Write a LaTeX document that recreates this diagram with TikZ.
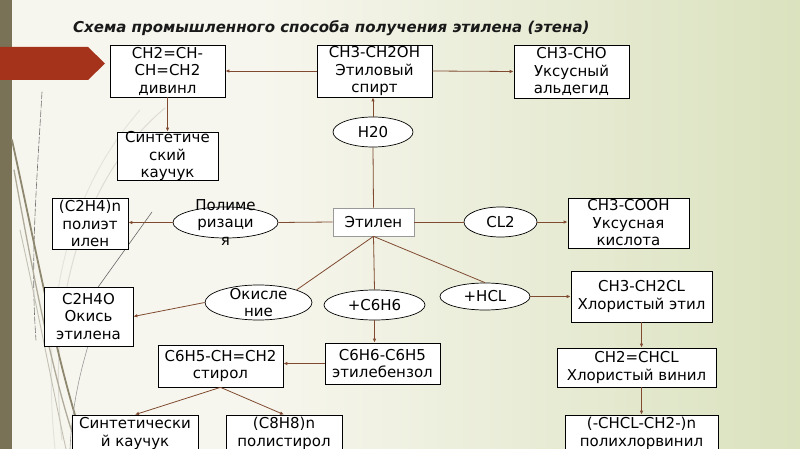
\documentclass[tikz,border=0pt]{standalone}
\usepackage{fontspec}
\setmainfont{DejaVu Sans}
\usetikzlibrary{shapes.geometric,arrows.meta,calc}
\definecolor{bgl}{HTML}{F7F6EE}
\definecolor{bgr}{HTML}{DAE2BE}
\definecolor{barc}{HTML}{7A7257}
\definecolor{redarr}{HTML}{A5331C}
\definecolor{conn}{HTML}{7F4A30}
\begin{document}
\begin{tikzpicture}[x=1pt,y=-1pt,
  box/.style={draw=black, fill=white, line width=0.7pt, inner sep=0pt},
  oval/.style={ellipse, draw=black, fill=white, line width=0.7pt, inner sep=0pt},
  txt/.style={align=center, inner sep=0pt, font=\fontsize{15}{17.5}\selectfont},
  link/.style={draw=conn, line width=0.8pt},
  arr/.style={link, -{Latex[length=4pt,width=3.5pt]}},
  deco/.style={line cap=round}
]
\useasboundingbox (0,0) rectangle (800,449);
% background
\fill[bgl] (0,0) rectangle (800,449);
\shade[left color=bgl, right color=bgr] (260,0) rectangle (800,449);
\fill[barc] (0,0) rectangle (12,449);
% decorative curves
\draw[deco, line width=0.6pt, black!55, dash pattern=on 7pt off 2pt] (42,92) .. controls (37,180) and (30,260) .. (36,340);
\draw[deco, line width=1pt, barc!25] (165,108) .. controls (90,170) and (45,290) .. (62,440);
\draw[deco, line width=1pt, barc!20] (140,110) .. controls (70,190) and (40,300) .. (55,449);
\draw[deco, line width=1.8pt, barc!85] (12,140) .. controls (38,260) and (55,350) .. (78,425);
\draw[deco, line width=1.3pt, barc!60] (14,170) .. controls (34,280) and (52,370) .. (72,432);
\draw[deco, line width=0.9pt, barc!45] (20,230) .. controls (40,320) and (55,400) .. (66,449);
\draw[deco, line width=0.6pt, black!60] (152,212) -- (96,290);
\draw[deco, line width=0.6pt, black!40] (88,346) .. controls (78,380) and (72,410) .. (70,449);
% red arrow
\fill[redarr] (0,47) -- (88,47) -- (105,63.5) -- (88,80) -- (0,80) -- cycle;
% title
\node[anchor=base west, inner sep=0pt, font=\fontsize{15}{18}\selectfont\bfseries\itshape, text=black!90] (title) at (73,33) {Схема промышленного способа получения этилена (этена)};
% boxes
\node[box, minimum width=115, minimum height=52] (div) at (167.5,71) {};
\node[box, minimum width=115, minimum height=52] (alc) at (374.5,71) {};
\node[box, minimum width=115, minimum height=53] (ald) at (571.5,71.5) {};
\node[box, minimum width=101, minimum height=48] (rub1) at (167.5,156) {};
\node[box, draw=black!40, minimum width=81, minimum height=28] (eth) at (373.5,222) {};
\node[box, minimum width=76, minimum height=51] (pe) at (90,223.5) {};
\node[box, minimum width=121, minimum height=50] (acid) at (628.5,223) {};
\node[box, minimum width=141, minimum height=51] (chl) at (641.5,296.5) {};
\node[box, minimum width=89, minimum height=59] (oxide) at (88.5,316.5) {};
\node[box, minimum width=115, minimum height=41] (eb) at (382.5,363.5) {};
\node[box, minimum width=125, minimum height=42] (sty) at (220.5,366) {};
\node[box, minimum width=159, minimum height=39] (vin) at (636.5,367.5) {};
\node[box, minimum width=126, minimum height=37] (rub2) at (135,433.5) {};
\node[box, minimum width=116, minimum height=37] (ps) at (284,433.5) {};
\node[box, minimum width=153, minimum height=37] (pvc) at (641.5,433.5) {};
% ellipses
\node[oval, minimum width=80, minimum height=30] (h2o) at (373,132) {};
\node[oval, minimum width=105, minimum height=31] (pol) at (225.5,222.5) {};
\node[oval, minimum width=73, minimum height=30] (cl2) at (500.5,222) {};
\node[oval, minimum width=90, minimum height=27] (hcl) at (485,296.5) {};
\node[oval, minimum width=107, minimum height=35] (ox) at (258.5,302.5) {};
\node[oval, minimum width=101, minimum height=30] (c6) at (374.5,305) {};
% texts
\node[txt] (tdiv) at (div) {CH2=CH-\\CH=CH2\\дивинл};
\node[txt] (talc) at (alc) {CH3-CH2OH\\Этиловый\\спирт};
\node[txt] (tald) at (ald) {CH3-CHO\\Уксусный\\альдегид};
\node[txt] (trub1) at (rub1) {Синтетиче\\ский\\каучук};
\node[txt] (teth) at (eth) {Этилен};
\node[txt] (tpe) at (pe) {(C2H4)n\\полиэт\\илен};
\node[txt] (tacid) at (acid) {CH3-COOH\\Уксусная\\кислота};
\node[txt] (tchl) at (chl) {CH3-CH2CL\\Хлористый этил};
\node[txt] (toxide) at (oxide) {C2H4O\\Окись\\этилена};
\node[txt] (teb) at (eb) {C6H6-C6H5\\этилебензол};
\node[txt] (tsty) at (sty) {C6H5-CH=CH2\\стирол};
\node[txt] (tvin) at (vin) {CH2=CHCL\\Хлористый винил};
\node[txt] (trub2) at (rub2) {Синтетически\\й каучук};
\node[txt] (tps) at (ps) {(C8H8)n\\полистирол};
\node[txt] (tpvc) at (pvc) {(-CHCL-CH2-)n\\полихлорвинил};
\node[txt] (th2o) at (h2o) {H20};
\node[txt] (tpol) at (pol) {Полиме\\ризаци\\я};
\node[txt] (tcl2) at (cl2) {CL2};
\node[txt] (thcl) at (hcl) {+HCL};
\node[txt] (tox) at (ox) {Окисле\\ние};
\node[txt] (tc6) at (c6) {+C6H6};
% connectors
\draw[arr] (alc.west) -- (div.east);
\draw[arr] (alc.east) -- (ald.west);
\draw[arr] (div.south) -- (rub1.north);
\draw[link] (eth.north) -- (h2o.south);
\draw[arr] (h2o.north) -- (h2o.north |- alc.south);
\draw[link] (eth.west) -- (pol.east);
\draw[arr] (pol.west) -- (pol.west -| pe.east);
\draw[link] (eth.east) -- (cl2.west);
\draw[arr] (cl2.east) -- (cl2.east -| acid.west);
\draw[link] (eth.south) -- (ox.north east);
\draw[arr] (ox.west) -- (oxide.east);
\draw[link] (eth.south) -- (c6.north);
\draw[arr] (c6.south) -- (c6.south |- eb.north);
\draw[link] (eth.south) -- (hcl.north);
\draw[arr] (hcl.east) -- (hcl.east -| chl.west);
\draw[arr] (eb.west) -- (eb.west -| sty.east);
\draw[arr] (sty.south) -- (rub2.north);
\draw[arr] (sty.south) -- (ps.north);
\draw[arr] (chl.south) -- (chl.south |- vin.north);
\draw[arr] (chl.south |- vin.south) -- (pvc.north);
\end{tikzpicture}
\end{document}
